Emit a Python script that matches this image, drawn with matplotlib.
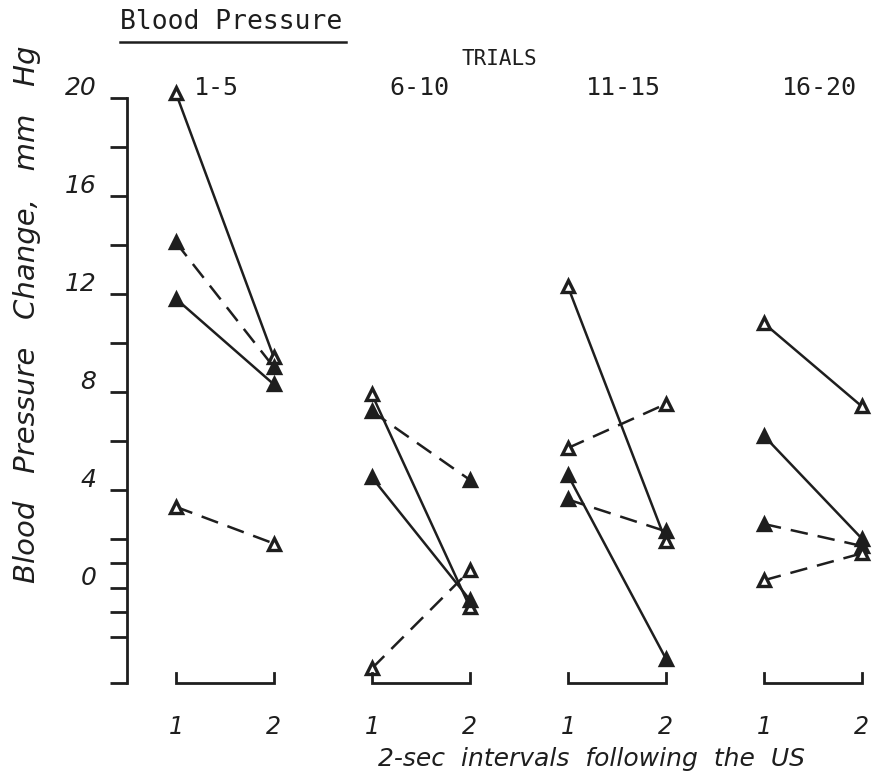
import matplotlib
matplotlib.use("Agg")
import matplotlib.pyplot as plt
import matplotlib.transforms as mtransforms
from matplotlib.lines import Line2D

# trial blocks and the two 2-sec intervals after the US
trial_blocks = ["1-5", "6-10", "11-15", "16-20"]
interval_labels = ["1", "2"]

# blood pressure change (mm Hg), one value per block, interval 1 and interval 2
solid_open_1 = [20.2, 7.9, 12.3, 10.8]
solid_open_2 = [9.4, -0.8, 1.9, 7.4]
solid_filled_1 = [11.8, 4.5, 4.6, 6.2]
solid_filled_2 = [8.3, -0.5, -2.9, 2.0]
dashed_filled_1 = [14.1, 7.2, 3.6, 2.6]
dashed_filled_2 = [9.0, 4.4, 2.3, 1.7]
dashed_open_1 = [3.3, -3.3, 5.7, 0.3]
dashed_open_2 = [1.8, 0.7, 7.5, 1.4]

ytick_values = [-3.9, -2, -1, 0, 1, 2, 4, 6, 8, 10, 12, 14, 16, 18, 20]
ytick_labeled = [0, 4, 8, 12, 16, 20]

ink = "#1e1e1e"
script = dict(family="DejaVu Sans", style="italic", color=ink)
typewriter = dict(family="DejaVu Sans Mono", color=ink)

series = [
    (solid_open_1, solid_open_2, "-", "white"),
    (solid_filled_1, solid_filled_2, "-", ink),
    (dashed_filled_1, dashed_filled_2, "--", ink),
    (dashed_open_1, dashed_open_2, "--", "white"),
]

fig = plt.figure(figsize=(8.75, 7.71), dpi=100)
ax = fig.add_axes([0.145, 0.114, 0.84, 0.759])
ax.set_xlim(-0.5, 7.0)
ax.set_ylim(-3.9, 20.0)

for g, block in enumerate(trial_blocks):
    xs = [2 * g, 2 * g + 1]
    for first, second, style, face in series:
        line, = ax.plot(xs, [first[g], second[g]], linestyle=style, color=ink,
                        lw=1.8, marker="^", markersize=9, markerfacecolor=face,
                        markeredgecolor=ink, markeredgewidth=2.4, clip_on=False)
        if style == "--":
            line.set_dashes((7, 4))
    # bracket under each block
    ax.plot([xs[0], xs[0], xs[1], xs[1]], [-3.5, -3.9, -3.9, -3.5], color=ink,
            lw=2, clip_on=False, solid_joinstyle="miter")
    for x, lab in zip(xs, interval_labels):
        ax.text(x, -5.7, lab, ha="center", va="center", fontsize=17, **script)
    ax.text(2 * g + 0.18, 20.4, block, ha="left", va="center", fontsize=18,
            **typewriter)

for side in ["top", "right", "bottom"]:
    ax.spines[side].set_visible(False)
ax.spines["left"].set_linewidth(2)
ax.spines["left"].set_color(ink)
ax.set_xticks([])
ax.set_yticks(ytick_values)
ax.set_yticklabels([f"{v:g}" if v in ytick_labeled else "" for v in ytick_values])
ax.tick_params(axis="y", direction="out", length=12, width=2, color=ink, pad=10,
               labelsize=18, labelcolor=ink)
shift = mtransforms.ScaledTranslation(0, 9 / 72, fig.dpi_scale_trans)
for lab in ax.get_yticklabels():
    lab.set_fontstyle("italic")
    lab.set_transform(lab.get_transform() + shift)

fig.text(0.031, 0.592, "Blood   Pressure   Change,   mm   Hg", rotation=90,
         ha="center", va="center", fontsize=21, **script)

fig.text(0.676, 0.016, "2-sec  intervals  following  the  US", ha="center",
         va="center", fontsize=18, **script)

fig.text(0.137, 0.972, "Blood Pressure", ha="left", va="center", fontsize=19,
         **typewriter)
fig.add_artist(Line2D([0.137, 0.395], [0.945, 0.945], color=ink, lw=1.8))
fig.text(0.571, 0.923, "TRIALS", ha="center", va="center", fontsize=15,
         **typewriter)

fig.savefig("out.png", dpi=100, facecolor="white")
